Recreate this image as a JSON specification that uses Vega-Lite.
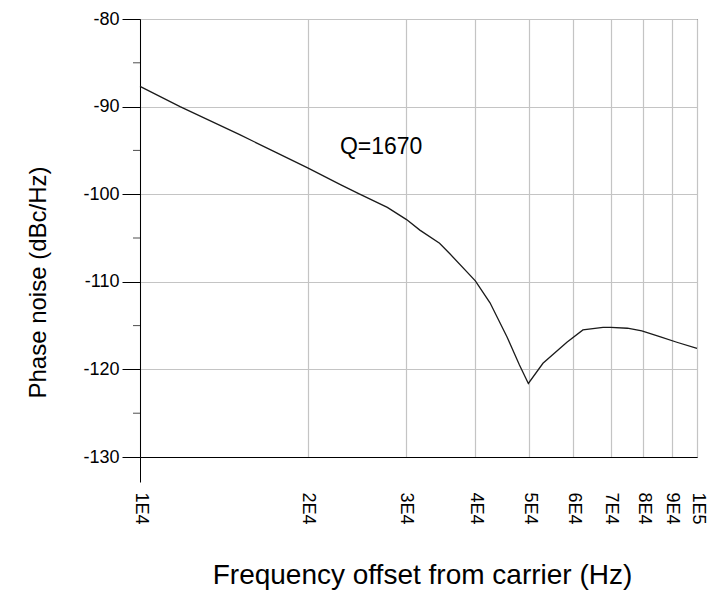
{
  "$schema": "https://vega.github.io/schema/vega-lite/v6.json",
  "width": 557,
  "height": 438,
  "autosize": {"type": "none"},
  "padding": {"left": 140, "top": 19, "right": 21, "bottom": 139},
  "background": "white",
  "config": {
    "view": {"stroke": "black", "strokeWidth": 1},
    "axis": {"domainColor": "black", "gridColor": "#c4c4c4", "gridWidth": 1.2, "tickColor": "black"}
  },
  "layer": [
    {
      "data": {"values": [
        {"f": 10000, "pn": -87.7},
        {"f": 11800, "pn": -90.0},
        {"f": 15100, "pn": -93.2},
        {"f": 17500, "pn": -95.2},
        {"f": 20000, "pn": -97.0},
        {"f": 22900, "pn": -98.9},
        {"f": 24800, "pn": -100.0},
        {"f": 27800, "pn": -101.5},
        {"f": 30100, "pn": -102.9},
        {"f": 31800, "pn": -104.1},
        {"f": 34500, "pn": -105.6},
        {"f": 36000, "pn": -106.8},
        {"f": 40000, "pn": -109.9},
        {"f": 42500, "pn": -112.4},
        {"f": 45600, "pn": -116.3},
        {"f": 48000, "pn": -119.5},
        {"f": 49800, "pn": -121.6},
        {"f": 52900, "pn": -119.3},
        {"f": 58400, "pn": -116.9},
        {"f": 62400, "pn": -115.5},
        {"f": 67800, "pn": -115.2},
        {"f": 70000, "pn": -115.2},
        {"f": 75000, "pn": -115.3},
        {"f": 79600, "pn": -115.6},
        {"f": 86000, "pn": -116.3},
        {"f": 92000, "pn": -116.9},
        {"f": 100000, "pn": -117.6}
      ]},
      "mark": {"type": "line", "color": "#1a1a1a", "strokeWidth": 1.3},
      "encoding": {
        "x": {
          "field": "f", "type": "quantitative",
          "scale": {"type": "log", "domain": [10000, 100000], "nice": false},
          "axis": {
            "title": "Frequency offset from carrier (Hz)",
            "titleFont": "Liberation Sans", "titleFontSize": 28, "titleFontWeight": "normal", "titleColor": "black",
            "titleX": 282, "titleY": 118, "titleBaseline": "middle", "titleAlign": "center",
            "values": [10000, 20000, 30000, 40000, 50000, 60000, 70000, 80000, 90000, 100000],
            "labelExpr": "datum.value == 100000 ? '1E5' : (datum.value / 10000) + 'E4'",
            "labelAngle": 90, "labelAlign": "left", "labelBaseline": "middle",
            "labelFont": "Liberation Sans", "labelFontSize": 18, "labelColor": "black",
            "labelPadding": 10, "labelOverlap": false, "labelFlush": false,
            "tickSize": 25,
            "tickColor": {"condition": {"test": "datum.value == 10000", "value": "black"}, "value": "transparent"},
            "grid": true
          }
        },
        "y": {
          "field": "pn", "type": "quantitative",
          "scale": {"domain": [-130, -80], "nice": false, "zero": false},
          "axis": {
            "title": "Phase noise (dBc/Hz)",
            "titleFont": "Liberation Sans", "titleFontSize": 24, "titleFontWeight": "normal", "titleColor": "black",
            "titleX": -102, "titleY": 263, "titleBaseline": "middle", "titleAlign": "center", "titleAngle": -90,
            "values": [-130, -120, -110, -100, -90, -80],
            "labelExpr": "'' + datum.value",
            "labelFont": "Liberation Sans", "labelFontSize": 18, "labelColor": "black",
            "labelPadding": 3, "labelOverlap": false, "labelFlush": false,
            "tickSize": 18,
            "grid": true
          }
        }
      }
    },
    {
      "data": {"values": [{"f": 27100, "pn": -94.6, "label": "Q=1670"}]},
      "mark": {"type": "text", "font": "Liberation Sans", "fontSize": 23, "color": "black", "align": "center", "baseline": "middle"},
      "encoding": {
        "x": {"field": "f", "type": "quantitative"},
        "y": {"field": "pn", "type": "quantitative"},
        "text": {"field": "label"}
      }
    },
    {
      "data": {"values": [{"t": -125}, {"t": -115}, {"t": -105}, {"t": -95}, {"t": -85}]},
      "mark": {"type": "tick", "orient": "horizontal", "color": "black", "size": 7, "thickness": 1, "xOffset": -3.5},
      "encoding": {
        "x": {"datum": 10000, "type": "quantitative"},
        "y": {"field": "t", "type": "quantitative"}
      }
    }
  ]
}
